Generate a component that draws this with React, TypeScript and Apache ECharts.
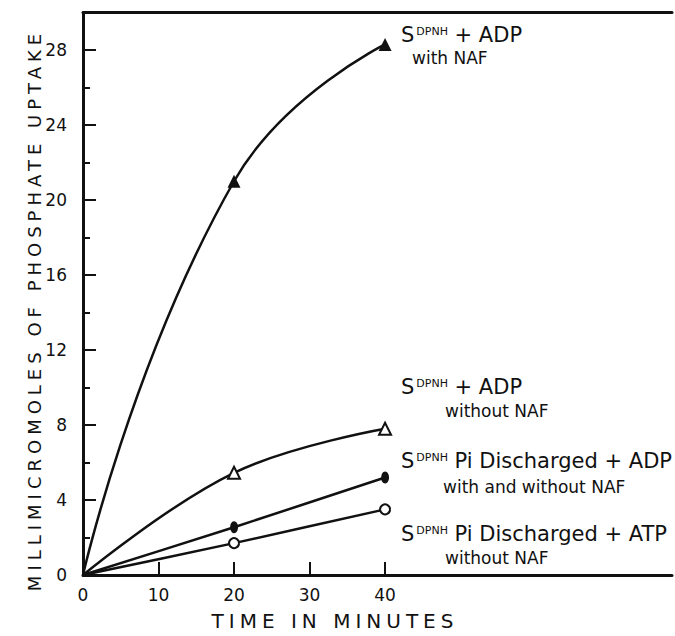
import { useEffect, useRef } from "react";
import * as echarts from "echarts";

const xTicks = [0, 10, 20, 30, 40];
const yTicks = [0, 4, 8, 12, 16, 20, 24, 28];
const yMinorTicks = [2, 6, 10, 14, 18, 22, 26];
const times = [0, 20, 40];
const adpWithNaf = [0, 21.0, 28.3];
const adpWithoutNaf = [0, 5.45, 7.8];
const piAdp = [0, 2.55, 5.2];
const piAtp = [0, 1.7, 3.5];

const yTitle = "MILLIMICROMOLES OF PHOSPHATE UPTAKE";
const xTitle = "TIME IN MINUTES";

const FONT = "DejaVu Sans";

const mk = (vals: number[]) =>
  times.map((t, i) => (i === 0 ? { value: [t, vals[i]], symbol: "none" } : { value: [t, vals[i]] }));

const spacing: Record<string, string> = {
  [yTitle]: "5px",
  [xTitle]: "5px",
};

export default function App() {
  const ref = useRef<HTMLDivElement>(null);
  useEffect(() => {
    const el = ref.current!;
    const chart = echarts.init(el, undefined, { renderer: "svg" });
    const black = "#111";
    const rich = {
      s: { fontSize: 21, fontFamily: FONT, fill: black },
      p: { fontSize: 11, fontFamily: FONT, verticalAlign: "top", padding: [1, 0, 0, 2], fill: black },
      t: { fontSize: 21, fontFamily: FONT, fill: black },
    };
    const line1 = (x: number, y: number, rest: string) => ({
      type: "text",
      x,
      y,
      style: {
        text: `{s|S}{p|DPNH}{t|${rest}}`,
        rich,
        verticalAlign: "middle",
        align: "left",
        fill: black,
      },
    });
    const line2 = (x: number, y: number, text: string) => ({
      type: "text",
      x,
      y,
      style: {
        text,
        fontSize: 17,
        fontFamily: FONT,
        verticalAlign: "middle",
        align: "left",
        fill: black,
      },
    });
    const baseSeries = {
      type: "line",
      xAxisIndex: 0,
      yAxisIndex: 0,
      lineStyle: { color: black, width: 2.5 },
      showAllSymbol: true,
    };
    chart.setOption({
      animation: false,
      backgroundColor: "#fff",
      grid: { left: 83, right: 3, top: 12.5, bottom: 61, containLabel: false },
      xAxis: [
        {
          type: "value",
          min: 0,
          max: 78,
          position: "bottom",
          axisLine: { show: true, onZero: false, lineStyle: { color: black, width: 3 } },
          axisTick: { show: true, inside: true, length: 13, customValues: xTicks, lineStyle: { color: black, width: 2 } },
          axisLabel: { customValues: xTicks, fontSize: 17, color: black, fontFamily: FONT, margin: 11 },
          splitLine: { show: false },
        },
        {
          type: "value",
          min: 0,
          max: 78,
          position: "top",
          axisLine: { show: true, onZero: false, lineStyle: { color: black, width: 3 } },
          axisTick: { show: false },
          axisLabel: { show: false },
          splitLine: { show: false },
        },
      ],
      yAxis: [
        {
          type: "value",
          min: 0,
          max: 30,
          position: "left",
          axisLine: { show: true, onZero: false, lineStyle: { color: black, width: 3 } },
          axisTick: { show: true, inside: true, length: 13, customValues: yTicks, lineStyle: { color: black, width: 2 } },
          axisLabel: { customValues: yTicks, fontSize: 17, color: black, fontFamily: FONT, margin: 16 },
          splitLine: { show: false },
        },
        {
          type: "value",
          min: 0,
          max: 30,
          position: "left",
          axisLine: { show: false, onZero: false },
          axisTick: { show: true, inside: true, length: 7, customValues: yMinorTicks, lineStyle: { color: black, width: 2 } },
          axisLabel: { show: false },
          splitLine: { show: false },
        },
      ],
      series: [
        {
          ...baseSeries,
          name: "SDPNH + ADP with NAF",
          data: mk(adpWithNaf),
          smooth: 0.5,
          symbol: "triangle",
          symbolSize: 13,
          itemStyle: { color: black },
        },
        {
          ...baseSeries,
          name: "SDPNH + ADP without NAF",
          data: mk(adpWithoutNaf),
          smooth: 0.4,
          symbol: "triangle",
          symbolSize: 12,
          itemStyle: { color: "#fff", borderColor: black, borderWidth: 2 },
        },
        {
          ...baseSeries,
          name: "SDPNH Pi Discharged + ADP with and without NAF",
          data: mk(piAdp),
          smooth: 0.2,
          symbol: "circle",
          symbolSize: [8, 12],
          itemStyle: { color: black },
        },
        {
          ...baseSeries,
          name: "SDPNH Pi Discharged + ATP without NAF",
          data: mk(piAtp),
          smooth: 0.2,
          symbol: "circle",
          symbolSize: 10,
          itemStyle: { color: "#fff", borderColor: black, borderWidth: 2 },
        },
      ],
      graphic: [
        line1(401, 35, " + ADP"),
        line2(412, 58, "with NAF"),
        line1(401, 387, " + ADP"),
        line2(445, 411, "without NAF"),
        line1(401, 461, " Pi Discharged + ADP"),
        line2(443, 487, "with and without NAF"),
        line1(401, 534, " Pi Discharged + ATP"),
        line2(445, 558, "without NAF"),
        {
          type: "text",
          x: 34,
          y: 310,
          rotation: Math.PI / 2,
          style: {
            text: yTitle,
            fontSize: 18,
            fontFamily: FONT,
            align: "center",
            verticalAlign: "middle",
            fill: black,
          },
        },
        {
          type: "text",
          x: 335,
          y: 621,
          style: {
            text: xTitle,
            fontSize: 20,
            fontFamily: FONT,
            align: "center",
            verticalAlign: "middle",
            fill: black,
          },
        },
      ],
    });
    const apply = () => {
      el.querySelectorAll("text").forEach((t) => {
        const s = spacing[(t.textContent || "").trim()];
        if (s) (t as SVGTextElement).style.letterSpacing = s;
      });
    };
    apply();
    const id = requestAnimationFrame(apply);
    const tid = setTimeout(apply, 50);
    return () => {
      cancelAnimationFrame(id);
      clearTimeout(tid);
      chart.dispose();
    };
  }, []);
  return (
    <div
      ref={ref}
      style={{ position: "fixed", left: 0, top: 0, width: 675, height: 636, background: "#fff" }}
    />
  );
}
